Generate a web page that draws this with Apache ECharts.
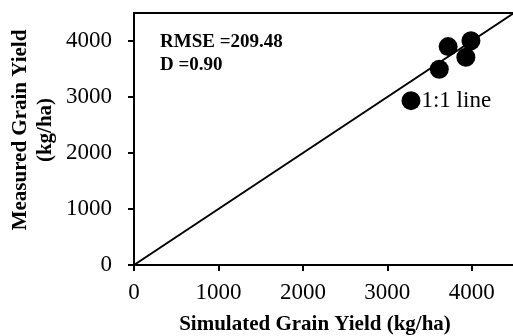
<!DOCTYPE html>
<html>
<head>
<meta charset="utf-8">
<script src="https://cdn.jsdelivr.net/npm/echarts@6/dist/echarts.min.js"></script>
<style>
  html, body { margin: 0; padding: 0; background: #fff; }
  #chart { width: 513px; height: 336px; }
</style>
</head>
<body>
<div id="chart"></div>
<script>
// Simulated vs measured grain yield (kg/ha)
const simulated = [3280, 3615, 3720, 3930, 3990];
const measured  = [2935, 3495, 3900, 3710, 4005];
const oneToOne  = [[0, 0], [4500, 4500]];
const axisTicks = [0, 1000, 2000, 3000, 4000];
const statsLines = ['RMSE =209.48', 'D =0.90'];
const lineLabel = '1:1 line';

const serif = '"Liberation Serif", "Times New Roman", serif';
const points = simulated.map((x, i) => [x, measured[i]]);

function valueAxis(extra) {
  return Object.assign({
    type: 'value', min: 0, max: 4500, interval: 1000,
    axisLine: { show: true, lineStyle: { color: '#000', width: 2 } },
    axisTick: { show: true, inside: false, length: 6, lineStyle: { color: '#000', width: 2 } },
    splitLine: { show: false },
    axisLabel: {
      fontFamily: serif, fontSize: 23, color: '#000',
      showMaxLabel: false,
      formatter: v => axisTicks.includes(Number(v)) ? String(v) : ''
    }
  }, extra);
}

const chart = echarts.init(document.getElementById('chart'));
const xAxis = valueAxis({
  name: 'Simulated Grain Yield (kg/ha)',
  nameLocation: 'middle', nameGap: 49,
  nameTextStyle: {
    fontFamily: serif, fontWeight: 'bold', fontSize: 21, color: '#000',
    padding: [0, 18, 0, 0]
  }
});
xAxis.axisLabel.margin = 16;
const yAxis = valueAxis({});
yAxis.axisLabel.margin = 22;

chart.setOption({
  animation: false,
  grid: {
    left: 134, top: 13, right: -1, bottom: 71,
    outerBoundsMode: 'none', containLabel: false,
    show: true, borderColor: '#000', borderWidth: 2, backgroundColor: '#fff'
  },
  xAxis: xAxis,
  yAxis: yAxis,
  graphic: [
    {
      type: 'text', x: 33, y: 130,
      rotation: Math.PI / 2,
      style: {
        text: 'Measured Grain Yield\n(kg/ha)',
        fontFamily: serif, fontWeight: 'bold', fontSize: 21, fill: '#000',
        align: 'center', verticalAlign: 'middle', lineHeight: 25
      }
    },
    {
      type: 'text', x: 160, y: 42,
      style: {
        text: statsLines[0], fontFamily: serif, fontWeight: 'bold', fontSize: 19,
        fill: '#000', verticalAlign: 'middle'
      }
    },
    {
      type: 'text', x: 160, y: 65,
      style: {
        text: statsLines[1], fontFamily: serif, fontWeight: 'bold', fontSize: 19,
        fill: '#000', verticalAlign: 'middle'
      }
    }
  ],
  series: [
    {
      type: 'line', data: oneToOne, symbol: 'none', silent: true,
      lineStyle: { color: '#000', width: 2 }, z: 2
    },
    {
      type: 'scatter', data: points, symbol: 'circle', symbolSize: 19,
      itemStyle: { color: '#000', opacity: 1 }, z: 3,
      label: {
        show: true, position: 'right', distance: 1,
        fontFamily: serif, fontSize: 23, color: '#000',
        formatter: p => p.dataIndex === 0 ? lineLabel : ''
      }
    }
  ]
});
</script>
</body>
</html>
